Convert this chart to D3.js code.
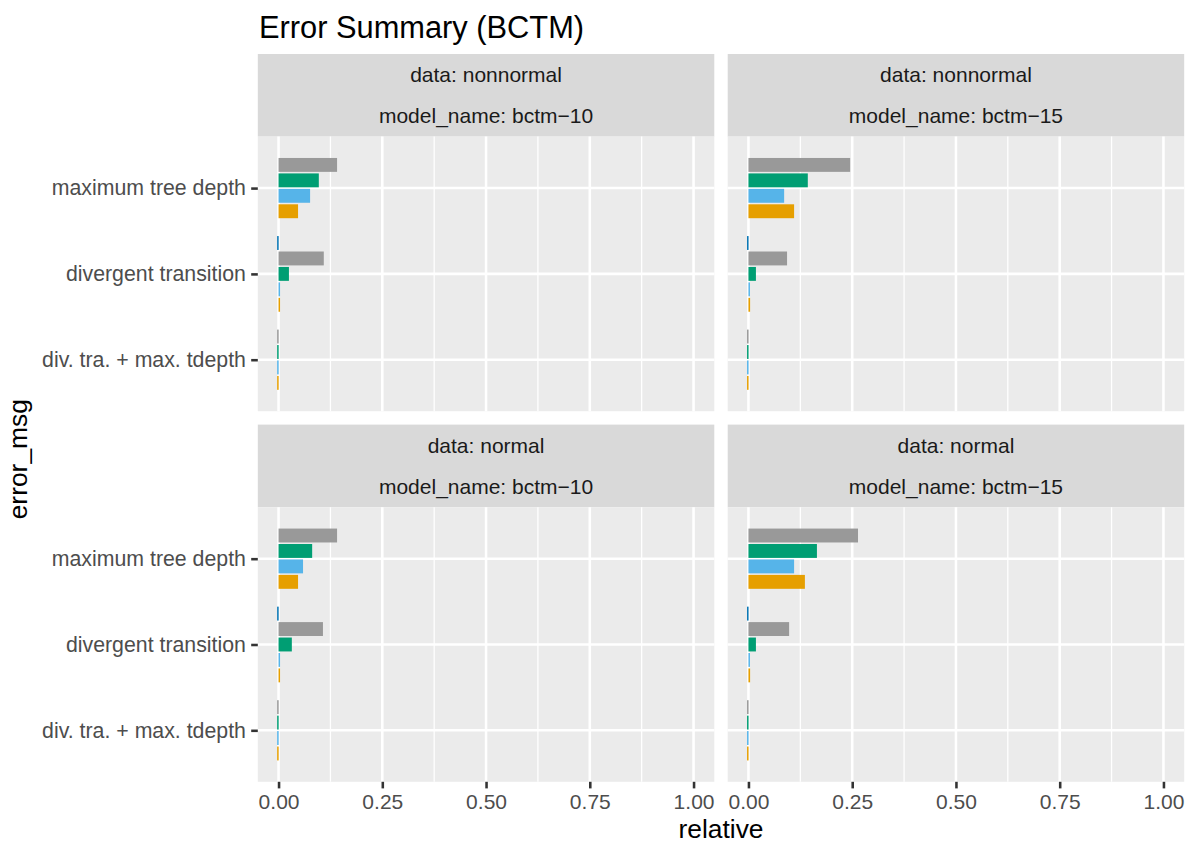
<!DOCTYPE html>
<html>
<head>
<meta charset="utf-8">
<script src="https://cdn.jsdelivr.net/npm/d3@7"></script>
<style>
  html, body { margin: 0; padding: 0; background: #ffffff; }
  svg { display: block; font-family: "Liberation Sans", Arial, Helvetica, sans-serif; }
</style>
</head>
<body>
<svg id="chart" width="1192" height="844"></svg>
<script>
// Error categories, listed top to bottom on the y axis
const categories = ["maximum tree depth", "divergent transition", "div. tra. + max. tdepth"];

// Facet panels in reading order (row by row)
const panelData = ["nonnormal", "nonnormal", "normal", "normal"];
const panelModel = ["bctm\u221210", "bctm\u221215", "bctm\u221210", "bctm\u221215"];

// Relative error frequency per panel; each inner array follows `categories`.
// null = group absent for that category.
const groupBlue   = [[null, 0, null],      [null, 0, null],      [null, 0, null],      [null, 0, null]];
const groupGray   = [[0.141, 0.109, 0],    [0.245, 0.093, 0],    [0.141, 0.107, 0],    [0.264, 0.098, 0]];
const groupGreen  = [[0.097, 0.025, 0],    [0.143, 0.018, 0],    [0.081, 0.032, 0],    [0.165, 0.018, 0]];
const groupSky    = [[0.076, 0.003, 0],    [0.086, 0.002, 0],    [0.059, 0.003, 0],    [0.110, 0.001, 0]];
const groupOrange = [[0.047, 0.003, 0],    [0.110, 0.004, 0],    [0.047, 0.003, 0],    [0.136, 0.004, 0]];

const groupNames  = ["blue", "gray", "green", "sky", "orange"];
const groupValues = [groupBlue, groupGray, groupGreen, groupSky, groupOrange];
const groupColors = ["#0072B2", "#999999", "#009E73", "#56B4E9", "#E69F00"];

const xTicks = [0, 0.25, 0.5, 0.75, 1];
const xMinor = [0.125, 0.375, 0.625, 0.875];

// Layout
const svg = d3.select("#chart");
const panelW = 456.5, panelH = 274.6, gap = 13.4;
const stripH = 82.6;
const leftX = 257.8;
const rowTop = [136.6, 136.6 + panelH + gap + stripH];
const colLeft = [leftX, leftX + panelW + gap];

const majorW = 2.56, minorW = 1.28;
const tickLen = 6.6, tickPad = 5.3;

// Title
svg.append("text")
  .attr("x", 259).attr("y", 37.5)
  .attr("font-size", 30.8).attr("fill", "#000")
  .text("Error Summary (BCTM)");

panelData.forEach((dataName, p) => {
  const row = Math.floor(p / 2), col = p % 2;
  const x0 = colLeft[col], y0 = rowTop[row];

  const x = d3.scaleLinear().domain([-0.05, 1.05]).range([x0, x0 + panelW]);
  const y = d3.scalePoint().domain(categories).range([y0, y0 + panelH]).padding(0.6);
  const step = y.step();
  const slot = 0.18 * step;
  const barH = 0.9 * slot;

  const g = svg.append("g");

  // Strip: two label rows
  const stripTop = y0 - stripH;
  g.append("rect")
    .attr("x", x0).attr("y", stripTop)
    .attr("width", panelW).attr("height", stripH)
    .attr("fill", "#D9D9D9");
  [`data: ${dataName}`, `model_name: ${panelModel[p]}`].forEach((t, i) => {
    g.append("text")
      .attr("x", x0 + panelW / 2)
      .attr("y", stripTop + stripH / 4 + i * stripH / 2)
      .attr("dy", "0.35em")
      .attr("text-anchor", "middle")
      .attr("font-size", 21).attr("fill", "#1A1A1A")
      .text(t);
  });

  // Panel background and grid
  g.append("rect")
    .attr("x", x0).attr("y", y0)
    .attr("width", panelW).attr("height", panelH)
    .attr("fill", "#EBEBEB");
  g.selectAll(".minor").data(xMinor).join("line")
    .attr("x1", d => x(d)).attr("x2", d => x(d))
    .attr("y1", y0).attr("y2", y0 + panelH)
    .attr("stroke", "#fff").attr("stroke-width", minorW);
  g.selectAll(".vmajor").data(xTicks).join("line")
    .attr("x1", d => x(d)).attr("x2", d => x(d))
    .attr("y1", y0).attr("y2", y0 + panelH)
    .attr("stroke", "#fff").attr("stroke-width", majorW);
  g.selectAll(".hmajor").data(categories).join("line")
    .attr("x1", x0).attr("x2", x0 + panelW)
    .attr("y1", d => y(d)).attr("y2", d => y(d))
    .attr("stroke", "#fff").attr("stroke-width", majorW);

  // Dodged bars: present groups are centred on each category
  categories.forEach((cat, ci) => {
    const present = [];
    groupValues.forEach((vals, gi) => {
      const v = vals[p][ci];
      if (v !== null) present.push({ gi, v });
    });
    const k = present.length;
    present.forEach((d, i) => {
      const cy = y(cat) + (i - (k - 1) / 2) * slot;
      const zero = x(0);
      const w = x(d.v) - zero;
      const thin = w < 1.5;
      // zero-height values still show as a hairline at the origin
      g.append("rect")
        .attr("class", "bar " + groupNames[d.gi])
        .attr("x", d.v === 0 ? zero - 1.4 : zero)
        .attr("y", cy - barH / 2)
        .attr("width", thin ? 1.5 : w)
        .attr("height", barH)
        .attr("fill", groupColors[d.gi]);
    });
  });

  // Y axis on left column
  if (col === 0) {
    const ya = g.append("g")
      .attr("transform", `translate(${x0},0)`)
      .call(d3.axisLeft(y).tickSize(tickLen).tickPadding(tickPad));
    ya.select(".domain").remove();
    ya.selectAll(".tick line").attr("stroke", "#333333").attr("stroke-width", majorW);
    ya.selectAll(".tick text")
      .attr("font-size", 21.3).attr("fill", "#4D4D4D")
      .attr("font-family", "Liberation Sans, Arial, sans-serif");
  }

  // X axis on bottom row
  if (row === 1) {
    const xa = g.append("g")
      .attr("transform", `translate(0,${y0 + panelH})`)
      .call(d3.axisBottom(x).tickValues(xTicks).tickFormat(d3.format(".2f"))
        .tickSize(tickLen).tickPadding(tickPad));
    xa.select(".domain").remove();
    xa.selectAll(".tick line").attr("stroke", "#333333").attr("stroke-width", majorW);
    xa.selectAll(".tick text")
      .attr("font-size", 21).attr("fill", "#4D4D4D")
      .attr("font-family", "Liberation Sans, Arial, sans-serif");
  }
});

// Axis titles
svg.append("text")
  .attr("x", (colLeft[0] + colLeft[1] + panelW) / 2)
  .attr("y", 838)
  .attr("text-anchor", "middle")
  .attr("font-size", 26.4).attr("fill", "#000")
  .text("relative");

svg.append("text")
  .attr("transform", `translate(27,${(rowTop[0] + rowTop[1] + panelH) / 2}) rotate(-90)`)
  .attr("text-anchor", "middle")
  .attr("font-size", 26.4).attr("fill", "#000")
  .text("error_msg");
</script>
</body>
</html>
